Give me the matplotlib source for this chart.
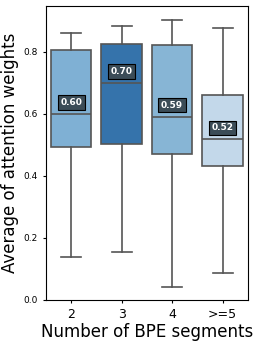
import matplotlib
matplotlib.use("Agg")
import matplotlib.pyplot as plt

# values
categories = ["2", "3", "4", ">=5"]
q1 = [0.494, 0.503, 0.472, 0.431]
medians = [0.599, 0.699, 0.591, 0.518]
q3 = [0.806, 0.826, 0.823, 0.662]
whisker_low = [0.138, 0.156, 0.041, 0.088]
whisker_high = [0.862, 0.882, 0.903, 0.876]
means = [0.60, 0.70, 0.59, 0.52]
colors = ["#7fb0d4", "#3573ab", "#87b5d5", "#c3d8ea"]

line_col = "#555555"

fig = plt.figure(figsize=(2.58, 3.46), dpi=100)
ax = fig.add_axes([0.178, 0.133, 0.783, 0.85])

stats = []
for i, c in enumerate(categories):
    stats.append({"label": c, "q1": q1[i], "med": medians[i], "q3": q3[i],
                  "whislo": whisker_low[i], "whishi": whisker_high[i], "fliers": []})

bp = ax.bxp(stats, positions=range(len(categories)), widths=0.8, patch_artist=True,
            showfliers=False,
            boxprops=dict(edgecolor=line_col, linewidth=1.2),
            medianprops=dict(color=line_col, linewidth=1.2),
            whiskerprops=dict(color=line_col, linewidth=1.2),
            capprops=dict(color=line_col, linewidth=1.2))
for patch, col in zip(bp["boxes"], colors):
    patch.set_facecolor(col)

# mean labels just above each median
for i, m in enumerate(means):
    ax.text(i, medians[i] + 0.037, "%.2f" % m, ha="center", va="center",
            fontsize=6.5, fontweight="bold", color="white",
            bbox=dict(boxstyle="square,pad=0.3", facecolor="#3b4c57", edgecolor="black", linewidth=0.8))

ax.set_xlim(-0.5, 3.5)
ax.set_ylim(0, 0.948)
ax.set_yticks([0.0, 0.2, 0.4, 0.6, 0.8])
ax.tick_params(axis="y", labelsize=6.5, length=2.5)
ax.tick_params(axis="x", labelsize=9, length=2.5)
ax.set_xlabel("Number of BPE segments", fontsize=12, labelpad=1)
ax.set_ylabel("Average of attention weights", fontsize=12, labelpad=3)

fig.savefig("out.png", dpi=100)
